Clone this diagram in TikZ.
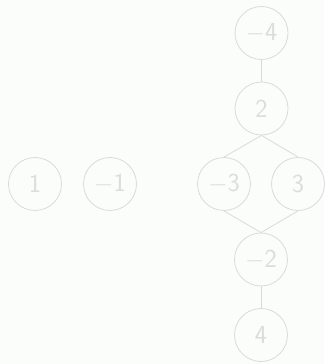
\documentclass[tikz,border=0pt]{standalone}
\usepackage{xcolor}
\definecolor{ringgrey}{RGB}{218,218,218}
\definecolor{textgrey}{RGB}{220,220,220}
\definecolor{paper}{RGB}{251,253,251}
\begin{document}
\begin{tikzpicture}[x=1pt,y=1pt,
  elem/.style={circle,draw=ringgrey,line width=0.8pt,minimum size=53pt,inner sep=0pt,
    text=textgrey,font=\sffamily\fontsize{26}{30}\selectfont},
  link/.style={draw=ringgrey,line width=0.8pt}]
\fill[paper] (0,0) rectangle (324,364);
\useasboundingbox (0,0) rectangle (324,364);
\node[elem] (p1) at (35,180) {1};
\node[elem] (m1) at (110,180) {$-$1};
\node[elem] (m4) at (261.5,331) {$-$4};
\node[elem] (p2) at (261.5,255.5) {2};
\node[elem] (m3) at (224,180) {$-$3};
\node[elem] (p3) at (298,180) {3};
\node[elem] (m2) at (261,104.5) {$-$2};
\node[elem] (p4) at (261,29) {4};
\draw[link] (m4.south) -- (p2.north);
\draw[link] (p2.south) -- (m3.north);
\draw[link] (p2.south) -- (p3.north);
\draw[link] (m3.south) -- (m2.north);
\draw[link] (p3.south) -- (m2.north);
\draw[link] (m2.south) -- (p4.north);
\end{tikzpicture}
\end{document}
